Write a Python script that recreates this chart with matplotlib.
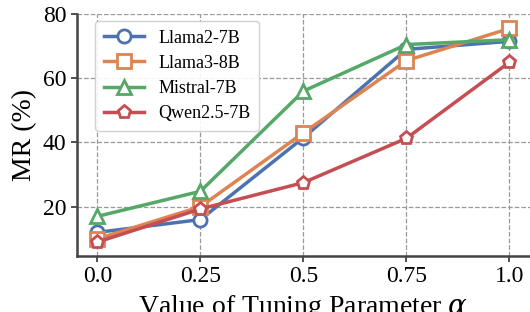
import matplotlib
matplotlib.use("Agg")
import matplotlib.pyplot as plt
import numpy as np

# ---------- data ----------
alpha_labels = ["0.0", "0.25", "0.5", "0.75", "1.0"]
llama2 = [12.0, 16.0, 41.5, 69.0, 71.5]
llama3 = [10.0, 20.0, 43.0, 65.5, 75.5]
mistral = [17.0, 24.8, 56.0, 70.5, 72.0]
qwen = [9.0, 19.3, 27.5, 41.3, 65.0]

series = [
    ("Llama2-7B", llama2, "#4C72B0", "o"),
    ("Llama3-8B", llama3, "#DD8452", "s"),
    ("Mistral-7B", mistral, "#55A868", "^"),
    ("Qwen2.5-7B", qwen, "#C44E52", "p"),
]

plt.rcParams["font.family"] = ["Liberation Serif", "DejaVu Serif"]
plt.rcParams["mathtext.fontset"] = "dejavuserif"

fig, ax = plt.subplots(figsize=(5.3, 3.12), dpi=100)
x = np.arange(len(alpha_labels))

for name, vals, col, mk in series:
    ax.plot(x, vals, color=col, marker=mk, lw=2.5, markersize=9.5,
            markerfacecolor="white", markeredgewidth=2, label=name)

ax.set_xticks(x)
ax.set_xticklabels(alpha_labels)
ax.set_yticks([20, 40, 60, 80])
ax.set_ylim(4.7, 80)
ax.set_xlim(-0.2, 4.2)
ax.tick_params(labelsize=17, length=4, width=1.2, colors="#333333", labelcolor="black")
ax.grid(True, linestyle="--", color="#999999", lw=0.9)
ax.set_axisbelow(True)

for s in ["top", "right"]:
    ax.spines[s].set_visible(False)
for s in ["left", "bottom"]:
    ax.spines[s].set_color("#444444")
    ax.spines[s].set_linewidth(1.8)

ax.set_ylabel("MR (%)", fontsize=20)
ax.set_xlabel(r"Value of Tuning Parameter $\alpha$", fontsize=20)

ax.legend(loc="upper left", fontsize=13, frameon=True, framealpha=0.9,
          edgecolor="#cccccc", handlelength=2.2, handletextpad=0.8,
          borderpad=0.5, labelspacing=0.45, bbox_to_anchor=(0.02, 1.01))

fig.subplots_adjust(left=0.145, right=1.0, top=0.955, bottom=0.18)
fig.savefig("out.png", dpi=100)
